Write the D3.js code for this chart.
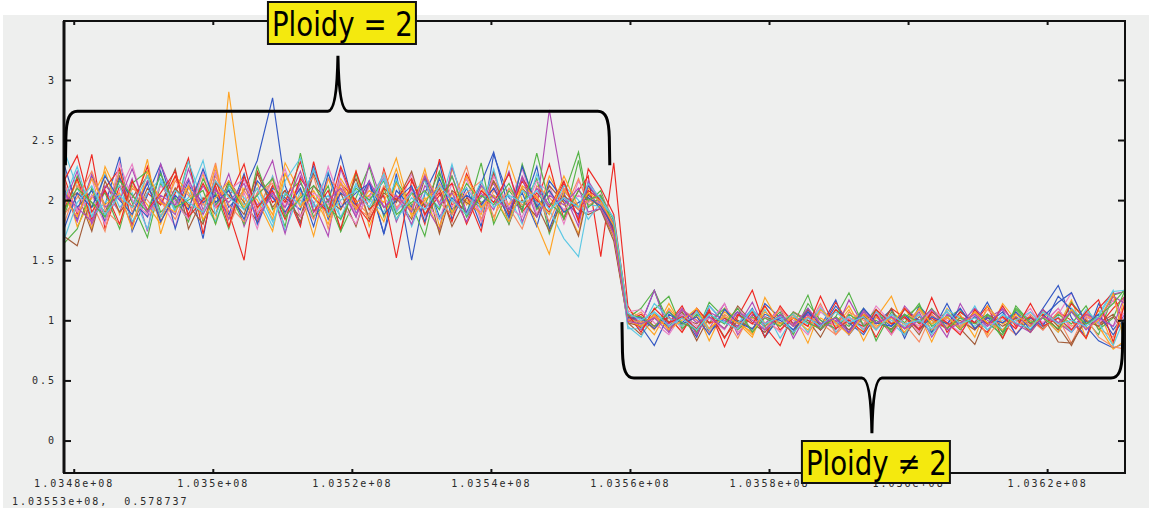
<!DOCTYPE html>
<html>
<head>
<meta charset="utf-8">
<script src="https://cdn.jsdelivr.net/npm/d3@7"></script>
<style>
  body { margin: 0; background: #fff; }
  svg { display: block; }
</style>
</head>
<body>
<svg id="chart" width="1149" height="508"></svg>
<script>
// probe positions along the chromosome (bp)
const positions = [
  103478600, 103480500, 103482600, 103484500, 103486600, 103488400, 103490600, 103492500, 103494600, 103496500,
  103498600, 103500400, 103502300, 103504500, 103506400, 103508600, 103510400, 103512600, 103514500, 103516600,
  103518400, 103520600, 103522500, 103524600, 103526400, 103528600, 103530500, 103532600, 103534400, 103536500,
  103538600, 103540400, 103542600, 103544500, 103546600, 103548400, 103550500, 103552600, 103554000,
  103555800, 103557670, 103559700,
  103561600, 103563500, 103565600, 103567500, 103569600, 103571400, 103573600, 103575500, 103577600, 103579400,
  103581600, 103583500, 103585600, 103587400, 103589600, 103591500, 103593600, 103595400, 103597600, 103599500,
  103601600, 103603400, 103605600, 103607500, 103609600, 103611400, 103613600, 103615500, 103617600, 103619400,
  103621600, 103623500, 103625600, 103627400, 103629500, 103631200
];

// copy ratio per sample, one row per sample (same order as positions)
const samples = [
  [2.10,1.84,2.20,1.96,2.36,1.74,2.04,2.30,1.90,2.16,1.68,2.24,1.94,2.08,2.33,2.85,2.12,1.80,2.26,1.98,2.37,1.88,2.14,1.72,2.22,1.50,2.06,2.31,1.84,2.10,1.78,2.38,2.02,1.92,2.28,1.76,2.08,1.94,2.04, 1.96,1.72,1.04, 0.97,1.25,0.93,1.05,0.86,1.12,0.98,1.07,0.90,1.14,1.02,0.92,1.10,0.95,1.17,0.88,1.03,0.97,1.09,0.85,1.12,1.00,0.93,1.07,0.98,1.15,0.90,1.03,0.95,1.10,1.29,1.02,0.86,1.14,0.92,1.05],
  [1.90,2.16,1.76,2.28,2.02,1.86,2.34,1.72,2.10,1.94,2.22,1.80,2.90,1.98,2.14,1.84,2.31,2.06,1.70,2.18,1.92,2.24,1.78,2.08,2.35,1.88,2.02,1.74,2.26,1.96,2.12,1.82,2.32,2.00,1.86,2.20,1.98,1.72,2.10, 2.02,1.80,1.08, 1.03,0.92,1.14,0.95,1.07,0.83,1.10,1.00,0.88,1.19,0.97,1.05,0.81,1.09,0.98,1.12,0.90,1.02,1.20,0.93,1.05,0.82,1.10,0.97,1.03,0.88,1.14,1.00,0.92,1.07,0.95,1.17,0.85,1.09,0.79,1.22],
  [1.64,1.76,2.10,1.86,2.24,1.98,1.69,2.14,1.92,2.33,1.82,2.06,1.76,2.20,1.94,2.04,1.78,2.39,1.90,2.12,1.74,2.02,2.28,1.86,2.16,1.96,1.70,2.22,2.00,1.88,2.31,1.80,2.08,1.94,2.18,1.72,2.04,2.40,1.98, 2.08,1.77,1.02, 1.10,1.25,0.98,1.07,0.90,1.15,1.02,0.93,1.09,0.86,1.05,0.97,1.21,0.92,1.03,0.95,1.10,0.83,1.07,0.98,1.14,0.90,1.02,1.09,0.93,1.03,0.85,1.12,0.98,1.05,0.92,1.15,1.00,0.88,1.21,1.24],
  [2.20,1.88,2.38,1.76,2.12,1.94,2.28,1.82,2.06,2.35,1.72,2.16,1.90,1.50,2.24,1.98,2.08,1.78,2.32,1.86,2.14,2.00,1.69,2.26,1.92,2.10,1.80,2.34,1.96,2.04,1.74,2.22,1.88,2.16,1.98,2.30,1.84,2.08,2.20, 1.53,2.31,1.12, 0.93,1.05,0.98,1.12,0.88,1.09,0.78,1.03,1.25,0.95,0.79,1.07,1.00,0.92,1.15,0.97,1.05,0.86,1.10,1.02,0.93,1.19,0.90,1.03,0.98,1.12,0.85,1.07,0.97,1.05,0.92,1.14,1.00,0.95,1.10,1.20],
  [1.96,2.24,1.80,2.08,1.90,2.18,1.74,2.30,2.00,1.86,2.12,1.94,2.22,1.78,2.06,2.33,1.88,2.14,1.98,1.70,2.26,1.92,2.04,2.18,1.82,2.10,1.96,1.76,2.28,1.90,2.02,2.14,1.84,2.20,1.94,2.75,2.06,1.78,2.16, 1.99,1.74,1.06, 0.98,1.25,0.90,1.09,1.00,0.93,1.14,0.88,1.05,0.97,1.10,0.85,1.07,1.00,0.92,1.17,0.95,1.03,0.90,1.12,0.98,1.05,0.86,1.14,0.93,1.02,1.09,0.88,1.03,0.97,1.10,0.92,1.07,0.98,1.22,1.24],
  [1.70,1.62,2.04,1.90,2.20,1.80,2.10,1.96,2.26,1.76,2.02,1.88,2.16,1.98,1.82,2.12,2.00,1.86,2.22,1.92,2.06,1.78,2.14,1.94,2.02,1.84,2.18,1.72,2.08,1.98,1.90,2.24,1.80,2.10,1.96,1.74,2.04,1.92,1.88, 1.93,1.69,0.98, 0.88,1.02,0.95,1.07,0.83,1.03,0.93,1.12,0.98,0.90,1.05,0.95,1.00,0.86,1.09,0.97,1.02,0.92,1.10,0.88,1.03,0.97,1.07,0.93,0.80,1.05,0.98,1.02,0.90,1.09,0.95,0.79,1.03,0.97,1.05,0.92],
  [2.04,1.92,2.18,1.82,2.08,2.30,1.86,2.00,1.78,2.14,1.96,2.24,1.88,2.06,1.76,2.20,1.94,2.10,1.84,2.28,1.98,1.80,2.12,2.02,1.90,2.22,1.86,2.08,1.94,2.18,1.82,2.04,1.96,2.26,1.88,2.12,1.80,2.16,2.02, 1.97,1.79,1.04, 1.02,0.95,1.09,0.92,1.05,0.98,1.14,0.90,1.03,0.95,1.10,1.00,0.88,1.07,0.97,1.03,0.93,1.12,0.98,1.05,0.90,1.09,1.00,0.95,1.07,0.92,1.03,0.98,1.10,0.93,1.05,1.23,0.97,1.02,0.95,1.07],
  [2.42,2.10,1.86,2.22,1.94,2.06,1.76,2.16,1.90,2.32,1.98,1.82,2.12,2.02,1.88,2.20,1.74,2.08,1.96,2.24,1.84,2.14,2.00,1.90,2.18,1.78,2.06,1.94,2.30,1.86,2.12,1.98,2.04,1.80,2.22,1.92,1.68,1.53,1.96, 1.95,1.82,0.95, 0.86,1.07,0.97,1.03,0.93,1.12,0.98,1.05,0.92,1.09,0.85,1.03,0.97,1.10,0.90,1.02,0.95,1.07,0.98,0.88,1.09,0.97,1.03,0.93,1.12,0.92,1.00,1.07,0.95,1.03,0.90,1.10,0.98,1.05,1.25,0.78],
  [1.80,2.12,1.98,1.74,2.26,1.90,2.16,2.02,1.84,2.10,1.96,2.31,1.78,2.08,1.92,2.18,1.86,2.04,2.20,1.76,2.10,1.98,1.88,2.24,1.94,2.06,1.82,2.14,1.98,2.28,1.84,2.08,1.94,1.76,2.12,2.02,1.90,2.18,1.96, 2.01,1.76,1.00, 1.07,0.93,1.02,0.90,1.10,0.97,1.03,0.85,1.09,0.98,0.92,1.05,0.95,1.14,0.88,1.00,1.07,0.93,1.03,0.97,0.82,1.05,0.95,1.02,0.92,1.09,0.98,0.88,1.05,0.95,1.02,0.81,1.07,0.93,0.86,1.15],
  [2.30,1.94,2.08,1.82,2.18,2.00,1.86,2.24,1.76,2.12,1.98,2.04,1.88,2.22,1.80,2.10,2.02,1.92,2.28,1.84,2.06,1.96,2.16,1.72,2.08,1.94,2.20,1.86,2.02,1.90,2.14,2.40,1.92,2.06,1.78,2.16,2.00,1.88,2.12, 1.98,1.73,1.01, 0.95,0.79,1.05,0.98,1.09,0.90,1.02,0.95,1.10,0.86,1.03,0.97,1.07,0.92,1.12,0.98,0.88,1.05,0.95,1.09,1.00,0.90,1.14,0.93,1.03,0.97,1.07,0.88,1.02,0.95,1.20,1.09,0.95,0.83,0.77,0.81],
  [2.16,1.78,2.02,2.24,1.88,2.12,1.96,1.80,2.20,2.06,1.90,2.28,1.84,2.10,2.00,1.74,2.22,1.94,2.08,1.86,2.18,1.98,2.04,1.82,2.14,1.92,2.26,1.78,2.06,2.00,1.88,2.16,1.96,2.10,1.80,1.55,2.08,1.94,2.02, 1.94,1.70,0.97, 1.00,0.88,1.10,0.97,1.03,0.92,1.07,0.98,0.86,1.12,0.95,1.05,0.90,1.02,0.95,1.09,0.83,1.03,0.97,1.10,0.92,1.00,0.93,1.05,0.86,1.12,0.97,1.03,0.90,1.07,0.98,0.92,1.05,0.95,0.76,0.83],
  [1.86,2.20,1.94,2.06,1.76,2.14,2.24,1.90,2.02,1.82,2.18,1.96,2.08,1.80,2.28,1.92,2.04,2.16,1.86,2.00,1.74,2.22,1.92,2.10,1.84,2.06,1.96,2.24,1.88,2.14,1.98,2.04,1.80,2.30,1.92,2.08,1.84,2.33,1.94, 2.03,1.78,1.03, 0.97,1.09,1.20,0.93,1.05,0.98,1.10,0.92,1.03,0.95,1.07,0.88,1.14,1.00,0.93,1.05,0.97,1.09,0.90,1.02,1.12,0.95,1.03,0.92,1.07,0.98,0.88,1.10,1.00,0.93,1.05,0.97,1.12,0.92,1.02,1.25],
  [1.92,2.18,1.84,2.10,2.26,1.80,2.06,1.96,2.20,1.88,2.14,1.94,2.02,2.30,1.86,2.12,1.98,2.32,1.90,2.08,1.76,2.24,1.92,2.04,1.52,2.16,1.94,2.06,1.82,2.22,1.96,2.10,1.86,2.18,2.00,1.90,2.14,1.84,2.08, 2.00,1.75,0.99, 1.05,0.95,1.03,0.90,1.10,0.98,1.02,0.93,1.07,0.86,1.12,0.97,1.03,0.92,1.09,1.00,0.95,1.05,0.88,1.10,0.97,1.02,0.93,1.07,0.98,0.90,1.12,0.95,1.03,0.92,1.07,1.00,0.85,1.10,1.23,0.93],
  [2.08,1.82,2.22,1.94,2.04,1.78,2.16,2.00,1.88,2.26,1.92,2.10,1.84,2.18,1.96,2.06,1.72,2.20,2.02,1.90,2.14,1.86,2.30,1.94,2.04,1.80,2.12,1.98,2.20,1.88,2.06,1.92,2.24,1.82,2.10,1.96,2.02,1.86,2.14, 1.96,1.81,1.05, 0.92,1.03,0.97,1.10,0.88,1.07,1.00,0.95,1.15,0.92,1.02,0.97,1.05,0.93,1.00,0.88,1.09,0.98,1.03,0.93,1.07,0.86,1.05,0.97,1.10,1.00,0.92,1.03,0.95,1.09,0.98,0.90,1.05,1.00,1.20,1.14],
  [1.98,2.06,1.74,2.16,1.90,2.02,2.20,1.86,2.10,1.96,1.80,2.14,2.04,1.88,2.22,1.94,2.08,1.82,2.12,2.00,1.92,2.18,1.84,2.06,1.98,2.24,1.88,2.10,1.78,2.02,1.94,2.16,1.90,2.00,1.86,2.12,1.98,1.70,2.06, 1.92,1.66,0.98, 0.95,1.05,0.92,1.02,0.97,1.07,0.86,1.00,0.93,1.03,0.98,0.90,1.09,0.95,1.02,0.92,1.05,0.98,0.93,1.03,0.88,1.07,0.97,1.00,0.92,1.05,0.95,1.02,0.90,1.03,0.82,0.81,1.00,0.95,1.03,0.90],
  [2.14,1.90,2.04,1.80,2.31,2.00,1.88,2.12,1.98,1.84,2.24,1.94,2.08,2.18,1.90,2.02,2.26,1.86,2.06,1.96,2.16,1.88,2.02,2.20,1.92,2.08,1.98,1.84,2.14,2.04,1.90,2.20,1.94,1.86,2.16,2.06,1.92,2.04,1.98, 2.05,1.84,1.07, 1.09,0.98,0.88,1.05,0.95,1.02,0.92,1.10,0.97,1.03,0.90,1.07,0.98,1.12,0.93,1.02,0.97,1.07,0.88,1.03,0.95,1.09,0.98,0.90,1.05,0.95,1.02,0.93,1.07,0.98,1.10,0.92,1.03,0.97,1.17,1.00],
  [2.00,2.28,1.86,1.98,2.12,1.82,2.06,2.18,1.92,2.02,2.33,1.88,2.10,1.96,2.04,1.78,2.16,2.35,1.94,2.04,1.86,2.12,1.98,2.22,1.90,2.06,2.16,1.84,2.00,2.10,1.92,2.26,1.82,2.08,1.98,1.88,2.12,2.00,1.84, 1.98,1.86,0.93, 0.93,1.14,1.02,0.95,1.07,0.92,1.03,0.98,1.09,0.93,1.00,1.05,0.90,1.10,0.97,1.03,0.92,1.07,1.00,0.95,1.05,0.88,1.09,1.02,0.95,1.05,0.92,1.00,1.07,0.95,1.03,0.90,1.09,0.98,0.79,1.03],
  [1.88,2.02,2.24,1.92,1.80,2.10,2.00,1.86,2.16,2.04,1.90,2.20,1.96,1.82,2.06,2.14,1.90,2.00,1.84,2.18,2.08,1.94,1.86,2.12,2.02,1.92,2.22,1.98,1.88,2.06,2.16,1.86,2.10,1.96,2.04,1.82,2.10,1.92,2.00, 1.97,1.71,1.01, 0.98,1.03,0.93,1.09,1.00,0.90,1.05,0.97,1.02,0.92,1.10,0.95,1.03,0.98,0.88,1.07,1.00,0.93,1.05,0.97,1.09,0.92,1.02,0.95,1.07,0.86,1.03,0.97,1.00,0.92,1.07,0.95,1.02,0.86,0.78,0.76],
  [1.76,2.06,1.94,2.20,2.00,1.88,2.14,1.82,2.04,1.92,2.26,1.98,2.08,1.84,2.16,2.02,1.90,2.10,1.78,2.22,1.94,2.06,2.14,1.88,2.00,2.12,1.82,2.18,1.92,2.04,1.96,2.10,1.86,2.28,1.94,2.08,1.90,1.98,2.02, 1.95,1.77,1.02, 1.02,0.93,1.07,0.97,1.03,0.88,1.09,0.98,0.93,1.05,1.00,0.92,1.07,0.97,1.02,0.90,1.10,0.98,0.95,1.05,0.92,1.03,0.97,1.10,0.93,1.02,0.98,1.07,0.92,1.03,1.15,1.23,0.97,1.05,0.88,1.02],
  [2.16,2.37,1.90,2.08,1.80,2.16,1.92,2.06,2.24,1.86,2.00,2.12,1.78,2.20,1.94,2.08,1.84,2.18,2.02,1.90,2.28,1.96,1.82,2.10,2.00,2.18,1.88,2.04,2.14,1.80,2.08,1.98,2.22,1.90,2.06,1.94,2.16,1.82,2.26, 2.10,1.88,1.05, 0.90,1.10,0.98,1.03,0.93,1.07,0.85,1.05,0.97,1.12,0.92,1.02,0.95,1.20,0.93,1.00,0.90,1.09,0.97,1.03,0.92,1.07,0.98,0.88,1.09,0.97,1.03,0.93,1.14,0.95,1.02,0.92,1.07,1.17,0.82,1.14],
  [2.02,1.86,2.18,1.96,2.06,1.76,2.24,1.98,1.90,2.12,1.84,2.02,2.16,1.94,2.10,1.88,2.22,1.96,2.04,1.80,2.14,1.92,2.08,1.98,2.26,1.86,2.00,2.12,1.90,2.20,1.94,2.04,1.82,2.12,2.02,1.88,2.20,1.94,2.06, 1.99,1.79,1.00, 0.95,1.05,0.92,1.00,1.10,0.93,1.03,0.98,0.90,1.07,0.97,1.02,0.92,1.09,0.98,0.88,1.05,0.95,1.02,0.90,1.10,0.97,1.03,0.93,1.07,0.98,0.92,1.05,0.95,1.03,0.90,1.09,0.93,1.00,1.22,0.79],
  [1.92,2.10,1.98,1.86,2.16,2.04,1.90,2.22,1.94,2.00,2.08,1.80,2.14,1.92,2.04,2.18,1.86,2.02,2.12,1.94,1.84,2.10,2.00,2.16,1.88,1.98,2.08,1.92,2.20,1.86,2.04,1.96,2.14,1.90,2.39,1.98,1.86,2.08,2.00, 2.04,1.83,1.04, 1.03,0.95,1.07,0.98,0.92,1.05,0.97,1.10,0.90,1.02,0.95,1.07,0.98,0.93,1.03,1.23,0.95,1.00,0.92,1.05,0.98,1.10,0.93,1.02,0.97,1.05,0.90,1.09,0.98,1.02,0.93,1.07,0.97,1.03,1.14,1.26],
  [2.06,1.94,1.82,2.12,2.00,2.26,1.90,2.04,1.96,2.18,1.88,2.08,1.98,2.14,1.84,2.06,1.94,2.24,1.90,2.00,2.10,1.86,2.16,1.94,2.04,1.90,2.20,1.96,2.06,1.82,2.12,2.02,1.92,2.18,1.86,2.04,1.96,2.10,1.90, 1.93,1.72,0.99, 0.97,1.02,0.90,1.09,0.98,1.03,0.93,1.07,1.00,0.92,1.05,0.95,1.10,0.97,1.02,0.90,1.07,0.98,1.03,0.93,1.00,1.09,0.92,0.98,1.05,0.95,1.10,0.97,0.90,1.03,0.98,1.07,0.92,1.02,0.95,1.21],
  [1.67,1.98,2.12,1.88,2.04,1.94,2.20,1.86,2.08,1.98,1.90,2.16,2.02,1.92,2.10,1.82,2.06,1.96,2.26,1.88,2.00,2.08,1.94,2.18,1.84,2.02,1.92,2.12,2.00,1.88,2.16,1.94,2.04,1.98,2.08,1.92,2.02,1.94,2.14, 2.01,1.85,1.06, 1.00,1.07,0.95,1.02,0.92,1.05,0.98,0.93,1.09,0.97,1.03,0.90,1.02,0.95,1.07,0.98,1.03,0.92,1.05,0.97,1.00,0.93,1.07,0.97,1.02,0.92,1.05,0.98,0.93,1.07,0.97,1.00,0.95,1.03,1.24,1.25]
];

const xDomain = [103478600, 103631200];
const yDomain = [-0.27, 3.49];
const xTicks = [1.0348e8, 1.035e8, 1.0352e8, 1.0354e8, 1.0356e8, 1.0358e8, 1.036e8, 1.0362e8];
const yTicks = [0, 0.5, 1, 1.5, 2, 2.5, 3];
const cursorText = "1.03553e+08,  0.578737";

// brace annotations in data units
const braceNormal = { from: 103478800, to: 103557100, tip: 103518000, bar: 2.74, ends: 2.29, point: 3.2, label: "Ploidy = 2" };
const braceAltered = { from: 103558850, to: 103630900, tip: 103594800, bar: 0.52, ends: 0.985, point: 0.06, label: "Ploidy \u2260 2" };

const seriesColors = ["#3358c4", "#ffa424", "#55b347", "#ee2a24", "#b04cb6", "#a35d3a", "#ea7fc4", "#5cc8e4", "#f88a62",
  "#3358c4", "#ffa424", "#55b347", "#ee2a24", "#b04cb6", "#a35d3a", "#ea7fc4", "#5cc8e4", "#f88a62",
  "#3358c4", "#ee2a24", "#ffa424", "#55b347", "#b04cb6", "#5cc8e4"];

const width = 1149, height = 508;
const margin = { top: 21, right: 24, bottom: 35, left: 64 };

const svg = d3.select("#chart");

svg.append("rect")
  .attr("x", 3).attr("y", 15)
  .attr("width", width - 3).attr("height", height - 15)
  .attr("fill", "#eeefee");

const x = d3.scaleLinear().domain(xDomain).range([margin.left, width - margin.right]);
const y = d3.scaleLinear().domain(yDomain).range([height - margin.bottom, margin.top]);

// 1.0348e+08 style labels
const fmtExp = v => {
  const [m, e] = v.toExponential().split("e");
  return m + "e" + e[0] + e.slice(1).padStart(2, "0");
};

// sample lines
const line = d3.line()
  .defined((d, i) => i < positions.length)
  .x((d, i) => x(positions[i]))
  .y(d => y(d));

svg.append("g")
  .attr("fill", "none")
  .attr("stroke-width", 1.15)
  .selectAll("path")
  .data(samples)
  .join("path")
  .attr("stroke", (d, i) => seriesColors[i % seriesColors.length])
  .attr("d", line);

// frame + axes
const tickStyle = g => {
  g.select(".domain").remove();
  g.selectAll(".tick line").attr("stroke", "#111").attr("stroke-width", 2);
  g.selectAll("text")
    .attr("font-family", "DejaVu Sans Mono, monospace")
    .attr("font-size", 10)
    .attr("letter-spacing", "2px")
    .attr("fill", "#2a2a2a");
};

svg.append("g")
  .attr("transform", `translate(0,${y.range()[0]})`)
  .call(d3.axisBottom(x).tickValues(xTicks).tickFormat(fmtExp).tickSize(-4).tickPadding(7))
  .call(tickStyle);

svg.append("g")
  .attr("transform", `translate(0,${y.range()[1]})`)
  .call(d3.axisTop(x).tickValues(xTicks).tickFormat("").tickSize(-4))
  .call(tickStyle);

svg.append("g")
  .attr("transform", `translate(${x.range()[0]},0)`)
  .call(d3.axisLeft(y).tickValues(yTicks).tickFormat(d3.format("~g")).tickSize(-7).tickPadding(8))
  .call(tickStyle);

svg.append("g")
  .attr("transform", `translate(${x.range()[1]},0)`)
  .call(d3.axisRight(y).tickValues(yTicks).tickFormat("").tickSize(-7))
  .call(tickStyle);

svg.append("rect")
  .attr("x", x.range()[0]).attr("y", y.range()[1])
  .attr("width", x.range()[1] - x.range()[0])
  .attr("height", y.range()[0] - y.range()[1])
  .attr("fill", "none").attr("stroke", "#111").attr("stroke-width", 2);

svg.append("line")
  .attr("x1", x.range()[0]).attr("x2", x.range()[0])
  .attr("y1", y.range()[1]).attr("y2", y.range()[0])
  .attr("stroke", "#111").attr("stroke-width", 3);

svg.append("text")
  .attr("x", 12).attr("y", 505)
  .attr("font-family", "DejaVu Sans Mono, monospace")
  .attr("font-size", 10)
  .attr("letter-spacing", "2px")
  .attr("fill", "#2a2a2a")
  .style("white-space", "pre")
  .text(cursorText);

// curly braces: dir = -1 points up, +1 points down
function bracePath(b, dir) {
  const x0 = x(b.from), x1 = x(b.to), xm = x(b.tip);
  const yb = y(b.bar), ye = y(b.ends), yt = y(b.point);
  const s = -dir; // direction from bar toward the ends
  const p = d3.path();
  p.moveTo(x0, ye);
  p.lineTo(x0 + 0.5, yb + s * 26);
  p.bezierCurveTo(x0 + 1, yb + s * 8, x0 + 4, yb, x0 + 12, yb);
  p.lineTo(xm - 10, yb);
  p.quadraticCurveTo(xm - 1, yb, xm, yt);
  p.quadraticCurveTo(xm + 1, yb, xm + 10, yb);
  p.lineTo(x1 - 12, yb);
  p.bezierCurveTo(x1 - 4, yb, x1 - 1, yb + s * 8, x1 - 0.5, yb + s * 26);
  p.lineTo(x1, ye);
  return p.toString();
}

svg.append("path")
  .attr("d", bracePath(braceNormal, -1))
  .attr("fill", "none").attr("stroke", "#000").attr("stroke-width", 3);

svg.append("path")
  .attr("d", bracePath(braceAltered, 1))
  .attr("fill", "none").attr("stroke", "#000").attr("stroke-width", 3);

// yellow labels
function labelBox(cx, top, text) {
  const g = svg.append("g");
  g.append("rect")
    .attr("x", cx - 74).attr("y", top)
    .attr("width", 148).attr("height", 42)
    .attr("fill", "#f4e90e").attr("stroke", "#111").attr("stroke-width", 2);
  g.append("text")
    .attr("x", cx - 70).attr("y", top + 34)
    .attr("font-family", "DejaVu Sans Condensed, DejaVu Sans, sans-serif")
    .attr("font-size", 33)
    .attr("fill", "#000")
    .attr("textLength", 141)
    .attr("lengthAdjust", "spacingAndGlyphs")
    .text(text);
}

labelBox(x(braceNormal.tip) + 4, 2, braceNormal.label);
labelBox(x(braceAltered.tip) + 4, 441, braceAltered.label);
</script>
</body>
</html>
